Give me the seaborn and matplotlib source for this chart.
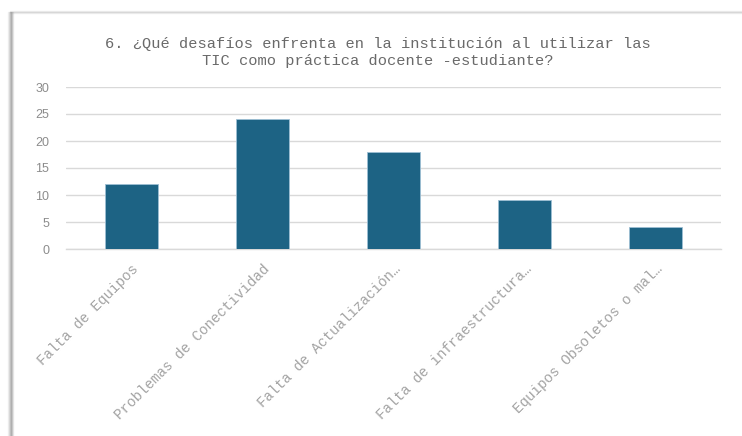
import matplotlib
matplotlib.use("Agg")
import matplotlib.pyplot as plt
from matplotlib.lines import Line2D
import seaborn as sns
import pandas as pd

categorias = [
    "Falta de Equipos",
    "Problemas de Conectividad",
    "Falta de Actualización…",
    "Falta de infraestructura…",
    "Equipos Obsoletos o mal…",
]
respuestas = [12, 24, 18, 9, 4]
ticks_y = [0, 5, 10, 15, 20, 25, 30]
titulo = "6. ¿Qué desafíos enfrenta en la institución al utilizar las\nTIC como práctica docente -estudiante?"

df = pd.DataFrame({"categoria": categorias, "respuestas": respuestas})

sns.set_theme(style="white")
mono = ["Liberation Mono", "DejaVu Sans Mono"]

W, H = 742, 436
fig = plt.figure(figsize=(W / 100, H / 100), dpi=100)
fig.patch.set_facecolor("white")

ax = fig.add_axes([66 / W, 1 - 249 / H, (721 - 66) / W, (249 - 87) / H])
sns.barplot(data=df, x="categoria", y="respuestas", color="#1D6384",
            width=0.4, saturation=1, edgecolor="#9DBFD4", linewidth=0.6,
            ax=ax, zorder=3)

ax.set_ylim(0, 30)
ax.set_yticks(ticks_y)
ax.yaxis.grid(True, color="#D9D9D9", linewidth=1.0, zorder=0)
ax.set_axisbelow(True)
for s in ["top", "right", "left"]:
    ax.spines[s].set_visible(False)
ax.spines["bottom"].set_color("#D9D9D9")
ax.spines["bottom"].set_linewidth(1.0)
ax.set_xlabel("")
ax.set_ylabel("")
ax.tick_params(axis="both", length=0)
ax.tick_params(axis="y", pad=12)

for lab in ax.get_yticklabels():
    lab.set_fontfamily(["Liberation Sans", "DejaVu Sans"])
    lab.set_fontsize(9)
    lab.set_color("#8C8C8C")

ax.set_xticks(range(len(categorias)))
ax.set_xticklabels(categorias, rotation=45, ha="right", rotation_mode="anchor",
                   fontfamily=mono, fontsize=10.3, color="#A3A3A3")
ax.tick_params(axis="x", pad=9)

fig.text(378 / W, 1 - 52.5 / H, titulo, ha="center", va="center",
         fontfamily=mono, fontsize=11.1, color="#6A6A6A", linespacing=1.2)

# card border with a soft shadow on the left edge
for dx, a in [(-3, 0.10), (-2, 0.22), (-1, 0.40), (0, 0.55), (1, 0.35), (2, 0.15)]:
    fig.add_artist(Line2D([(11 + dx) / W] * 2, [0, 1 - 12 / H],
                          transform=fig.transFigure, color="#7F7F7F",
                          alpha=a, linewidth=1.0))
for dy, a in [(-1, 0.15), (0, 0.35), (1, 0.15)]:
    fig.add_artist(Line2D([10 / W, 1], [1 - (12 + dy) / H] * 2,
                          transform=fig.transFigure, color="#9A9A9A",
                          alpha=a, linewidth=1.0))

fig.savefig("out.png", dpi=100, facecolor="white")
